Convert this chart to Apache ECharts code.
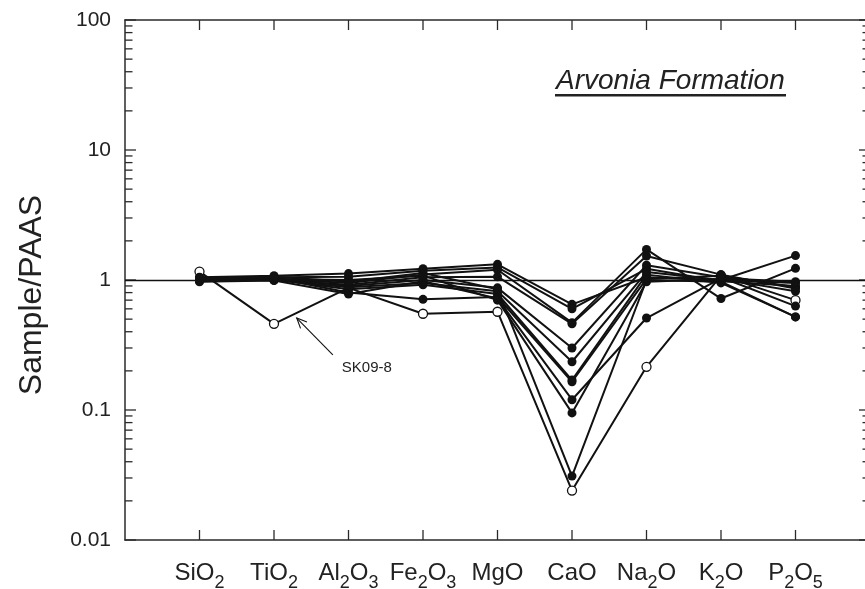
<!DOCTYPE html>
<html style="height: 100%">
<head>
<meta charset="utf-8">
</head>
<body style="height: 100%; margin: 0; background: #fff">
<div id="container" style="width:865px; height:589px"></div>
<script src="https://cdn.jsdelivr.net/npm/echarts@6/dist/echarts.min.js"></script>
<script type="text/javascript">
// oxide categories (x = 1..9): pieces alternate main text / subscript
var oxides = [
  ['SiO', '2'], ['TiO', '2'], ['Al', '2', 'O', '3'], ['Fe', '2', 'O', '3'],
  ['MgO'], ['CaO'], ['Na', '2', 'O'], ['K', '2', 'O'], ['P', '2', 'O', '5']
];
var xTicks = [1, 2, 3, 4, 5, 6, 7, 8, 9];
var yTicks = [0.01, 0.1, 1, 10, 100];

// sample / PAAS, order: SiO2 TiO2 Al2O3 Fe2O3 MgO CaO Na2O K2O P2O5
var sk09_8 = [1.16, 0.46, 0.87, 0.55, 0.57, 0.024, 0.215, 1.08, 0.70];
var sampleA = [1.05, 1.08, 1.12, 1.22, 1.32, 0.65, 1.05, 1.00, 0.95];
var sampleB = [1.02, 1.05, 1.06, 1.18, 1.25, 0.60, 1.22, 0.98, 0.90];
var sampleC = [1.00, 1.02, 0.95, 1.10, 1.20, 0.47, 1.72, 0.72, 1.23];
var sampleD = [0.98, 1.00, 0.92, 1.05, 1.06, 0.46, 1.53, 1.10, 0.86];
var sampleE = [1.04, 1.03, 0.90, 1.00, 0.87, 0.30, 1.30, 1.05, 0.63];
var sampleF = [1.01, 1.00, 0.88, 0.95, 0.82, 0.235, 1.15, 1.00, 1.54];
var sampleG = [0.99, 1.01, 0.85, 0.92, 0.78, 0.17, 1.10, 0.95, 0.52];
var sampleH = [1.03, 1.04, 0.80, 0.71, 0.74, 0.165, 1.02, 1.08, 0.88];
var sampleI = [0.97, 0.99, 0.78, 0.98, 0.72, 0.12, 0.51, 1.03, 0.97];
var sampleJ = [1.00, 1.02, 1.00, 1.08, 0.70, 0.095, 0.97, 1.02, 0.82];
var sampleK = [1.02, 1.06, 0.97, 1.13, 0.85, 0.031, 1.00, 0.97, 0.52];

var filledSamples = [sampleA, sampleB, sampleC, sampleD, sampleE, sampleF,
  sampleG, sampleH, sampleI, sampleJ, sampleK];

var ink = '#111';
var axisInk = '#2a2a2a';
var font = 'Liberation Sans, Arial, Helvetica, sans-serif';

// y ticks: decades long, 2..9 short, both sides, pointing inward
var yTickData = [];
yTicks.forEach(function (v) { yTickData.push([0, v, 11]); });
for (var d = 0.01; d < 50; d *= 10) {
  for (var m = 2; m <= 9; m++) yTickData.push([0, +(m * d).toPrecision(3), 7.5]);
}
var xTickData = xTicks.map(function (x) { return [x, 1, 10]; });

function toPairs(arr) {
  return arr.map(function (v, i) { return [i + 1, v]; });
}

function oxideLabel(v) {
  var o = oxides[Math.round(v) - 1];
  if (!o || Math.abs(v - Math.round(v)) > 1e-6) return '';
  var s = '';
  for (var i = 0; i < o.length; i++) {
    s += (i % 2 === 0 ? '{m|' : '{s|') + o[i] + '}';
  }
  return s;
}

var dom = document.getElementById('container');
var myChart = echarts.init(dom);

var tickStyle = { stroke: axisInk, lineWidth: 1.3 };

var series = [];
series.push({
  name: 'SK09-8',
  type: 'line',
  data: toPairs(sk09_8),
  symbol: 'circle',
  symbolSize: 9,
  lineStyle: { color: ink, width: 2 },
  itemStyle: { color: '#fff', borderColor: ink, borderWidth: 1.3 },
  markLine: {
    silent: true,
    symbol: 'none',
    label: { show: false },
    lineStyle: { color: ink, width: 1.3, type: 'solid' },
    data: [{ yAxis: 1 }]
  }
});
filledSamples.forEach(function (arr, k) {
  series.push({
    name: 'S' + (k + 1),
    type: 'line',
    data: toPairs(arr),
    symbol: 'circle',
    symbolSize: 9,
    lineStyle: { color: ink, width: 2 },
    itemStyle: { color: ink }
  });
});
series.push({
  type: 'custom',
  silent: true,
  clip: false,
  data: yTickData,
  renderItem: function (params, api) {
    var v = api.value(1), len = api.value(2);
    var pl = api.coord([0, v]);
    var pr = api.coord([10, v]);
    return {
      type: 'group',
      children: [
        { type: 'line', shape: { x1: pl[0], y1: pl[1], x2: pl[0] + len, y2: pl[1] }, style: tickStyle },
        { type: 'line', shape: { x1: pr[0] - len, y1: pr[1], x2: pr[0], y2: pr[1] }, style: tickStyle }
      ]
    };
  }
});
series.push({
  type: 'custom',
  silent: true,
  clip: false,
  data: xTickData,
  renderItem: function (params, api) {
    var x = api.value(0), len = api.value(2);
    var pb = api.coord([x, 0.01]);
    var pt = api.coord([x, 100]);
    return {
      type: 'group',
      children: [
        { type: 'line', shape: { x1: pb[0], y1: pb[1], x2: pb[0], y2: pb[1] - len }, style: tickStyle },
        { type: 'line', shape: { x1: pt[0], y1: pt[1], x2: pt[0], y2: pt[1] + len }, style: tickStyle }
      ]
    };
  }
});

var axisLine = { show: true, onZero: false, lineStyle: { color: axisInk, width: 1.5 } };

var option = {
  backgroundColor: '#fff',
  animation: false,
  grid: { left: 125, top: 20, right: -5, bottom: 49, containLabel: false, outerBoundsMode: 'none' },
  xAxis: [{
    type: 'value', min: 0, max: 10, interval: 1, position: 'bottom',
    axisLine: axisLine,
    axisTick: { show: false },
    splitLine: { show: false },
    axisLabel: {
      margin: 21, color: '#222', formatter: oxideLabel,
      rich: {
        m: { fontSize: 24, lineHeight: 24, fontFamily: font, color: '#222' },
        s: { fontSize: 18, lineHeight: 18, fontFamily: font, color: '#222', padding: [20, 0, 0, 0] }
      }
    }
  }, {
    type: 'value', min: 0, max: 10, interval: 1, position: 'top',
    axisLine: axisLine,
    axisTick: { show: false },
    splitLine: { show: false },
    axisLabel: { show: false }
  }],
  yAxis: [{
    type: 'log', logBase: 10, min: 0.01, max: 100, position: 'left',
    axisLine: axisLine,
    axisTick: { show: false },
    splitLine: { show: false },
    axisLabel: {
      margin: 14, fontSize: 21, fontFamily: font, color: '#222',
      formatter: function (v) {
        for (var i = 0; i < yTicks.length; i++) {
          if (Math.abs(Math.log10(v) - Math.log10(yTicks[i])) < 1e-6) return String(yTicks[i]);
        }
        return '';
      }
    }
  }, {
    type: 'log', logBase: 10, min: 0.01, max: 100, position: 'right',
    axisLine: axisLine,
    axisTick: { show: false },
    splitLine: { show: false },
    axisLabel: { show: false }
  }],
  graphic: [{
    type: 'text', x: 32, y: 295, rotation: Math.PI / 2,
    style: { text: 'Sample/PAAS', font: '32px ' + font, fill: '#222', align: 'center', verticalAlign: 'middle' }
  }, {
    type: 'text', x: 556, y: 81,
    style: { text: 'Arvonia Formation', font: 'italic 28px ' + font, fill: '#222', align: 'left', verticalAlign: 'middle' }
  }, {
    type: 'rect', shape: { x: 555, y: 94, width: 231, height: 2.5 }, style: { fill: '#222' }
  }],
  series: series
};

myChart.setOption(option);

// arrow pointing at the SK09-8 line, anchored in data space
var head = myChart.convertToPixel({ gridIndex: 0 }, [2.305, 0.51]);
var tail = myChart.convertToPixel({ gridIndex: 0 }, [2.79, 0.265]);
var dx = head[0] - tail[0], dy = head[1] - tail[1];
var len = Math.sqrt(dx * dx + dy * dy);
var ux = dx / len, uy = dy / len;
function wing(a, r) {
  return [head[0] - r * (ux * Math.cos(a) - uy * Math.sin(a)), head[1] - r * (ux * Math.sin(a) + uy * Math.cos(a))];
}
var gr = option.graphic.slice();
gr.push({ type: 'line', shape: { x1: tail[0], y1: tail[1], x2: head[0], y2: head[1] }, style: { stroke: ink, lineWidth: 1.1 } });
gr.push({ type: 'polyline', shape: { points: [wing(0.42, 11), head, wing(-0.42, 11)] }, style: { stroke: ink, lineWidth: 1.1, fill: null } });
gr.push({
  type: 'text', x: tail[0] + 9, y: tail[1] + 13,
  style: { text: 'SK09-8', font: '15px ' + font, fill: '#222', align: 'left', verticalAlign: 'middle' }
});
myChart.setOption({ graphic: gr });
</script>
</body>
</html>
